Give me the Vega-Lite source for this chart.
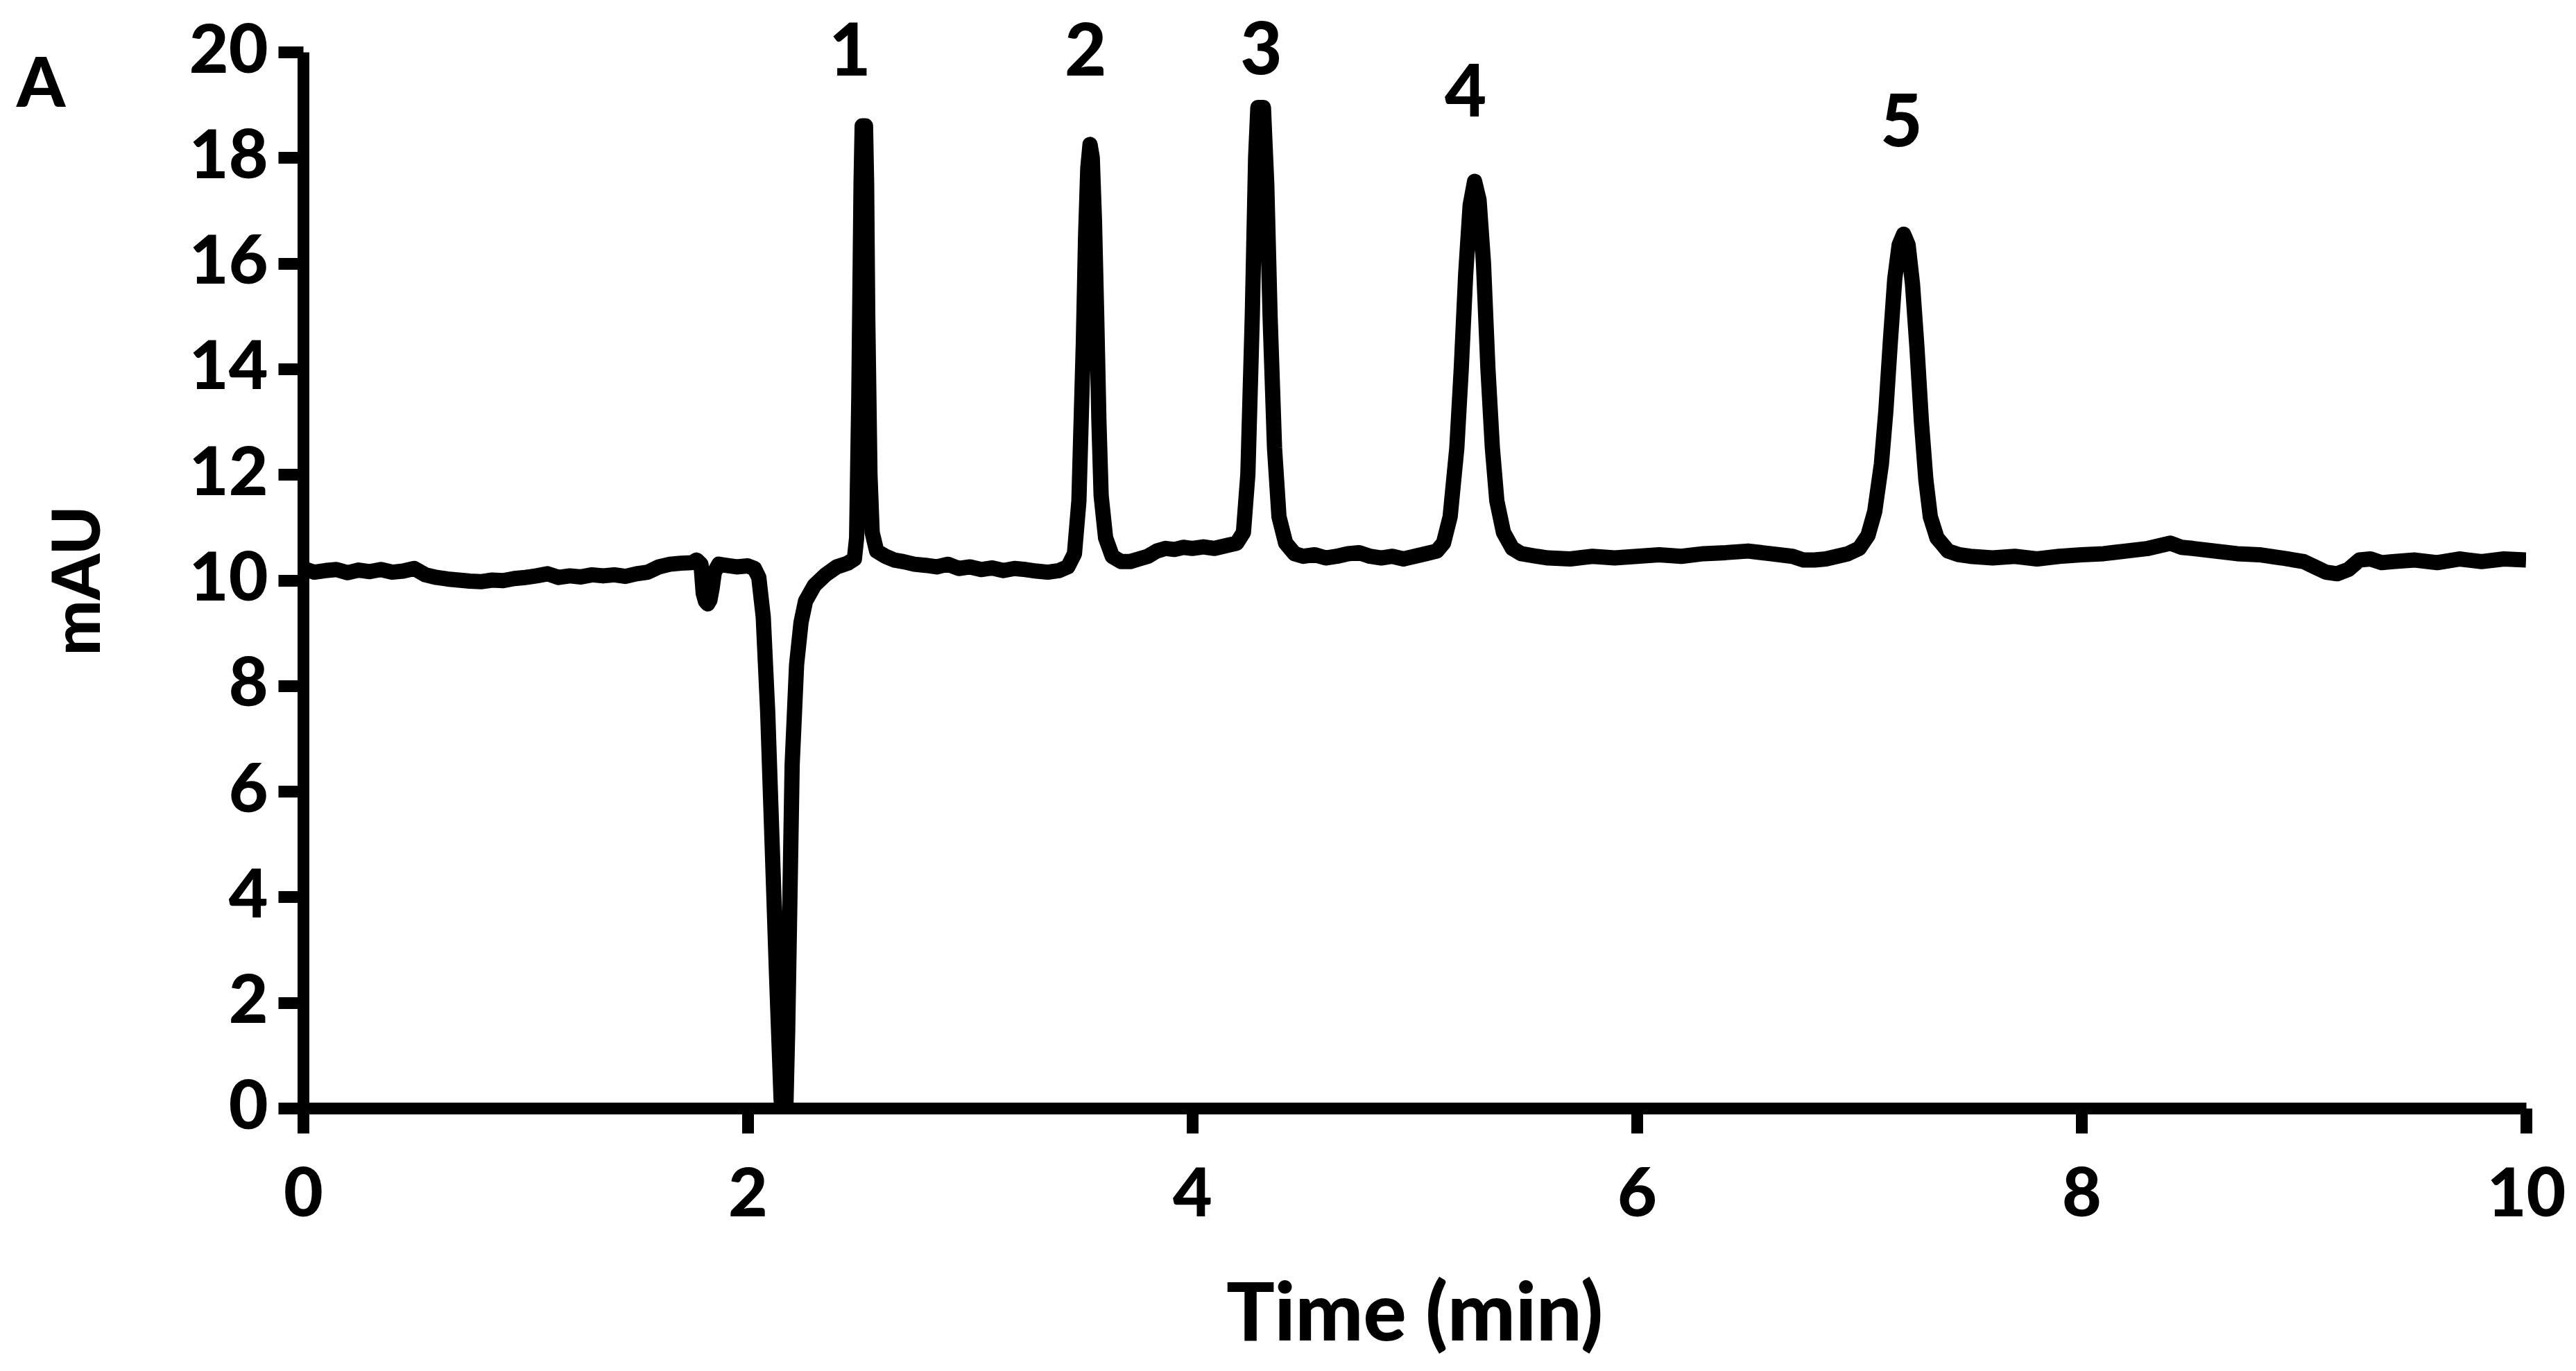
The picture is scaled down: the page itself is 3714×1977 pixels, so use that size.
{
  "$schema": "https://vega.github.io/schema/vega-lite/v6.json",
  "width": 3205,
  "height": 1523,
  "autosize": {"type": "none"},
  "padding": {"left": 437, "top": 75, "right": 72, "bottom": 379},
  "background": "white",
  "config": {"view": {"stroke": null}, "font": "Lato"},
  "layer": [
    {
      "data": {"values": [
        {"t":0.00,"v":10.22},{"t":0.05,"v":10.15},{"t":0.10,"v":10.18},{"t":0.15,"v":10.20},{"t":0.20,"v":10.14},{"t":0.25,"v":10.19},{"t":0.30,"v":10.16},{"t":0.35,"v":10.20},{"t":0.40,"v":10.15},{"t":0.45,"v":10.17},{"t":0.50,"v":10.22},{"t":0.55,"v":10.10},{"t":0.60,"v":10.05},{"t":0.65,"v":10.02},{"t":0.70,"v":10.00},{"t":0.75,"v":9.98},{"t":0.80,"v":9.97},{"t":0.85,"v":10.00},{"t":0.90,"v":9.99},{"t":0.95,"v":10.03},{"t":1.00,"v":10.05},{"t":1.05,"v":10.08},{"t":1.10,"v":10.12},{"t":1.15,"v":10.05},{"t":1.20,"v":10.08},{"t":1.25,"v":10.06},{"t":1.30,"v":10.10},{"t":1.35,"v":10.08},{"t":1.40,"v":10.10},{"t":1.45,"v":10.07},{"t":1.50,"v":10.12},{"t":1.55,"v":10.15},{"t":1.60,"v":10.25},{"t":1.65,"v":10.30},{"t":1.70,"v":10.32},{"t":1.75,"v":10.33},{"t":1.77,"v":10.38},{"t":1.79,"v":10.30},{"t":1.80,"v":9.75},{"t":1.81,"v":9.60},{"t":1.82,"v":9.55},{"t":1.83,"v":9.62},{"t":1.84,"v":9.85},{"t":1.85,"v":10.15},{"t":1.87,"v":10.30},{"t":1.90,"v":10.28},{"t":1.95,"v":10.25},{"t":2.00,"v":10.27},{"t":2.03,"v":10.22},{"t":2.05,"v":10.05},{"t":2.07,"v":9.3},{"t":2.09,"v":7.5},{"t":2.11,"v":5.0},{"t":2.13,"v":2.5},{"t":2.15,"v":0.2},{"t":2.16,"v":-0.5},{"t":2.17,"v":-0.3},{"t":2.18,"v":1.5},{"t":2.19,"v":4.0},{"t":2.20,"v":6.5},{"t":2.22,"v":8.4},{"t":2.24,"v":9.2},{"t":2.26,"v":9.6},{"t":2.30,"v":9.9},{"t":2.35,"v":10.1},{"t":2.40,"v":10.25},{"t":2.45,"v":10.32},{"t":2.48,"v":10.40},{"t":2.49,"v":10.8},{"t":2.50,"v":13.5},{"t":2.51,"v":17.5},{"t":2.515,"v":18.6},{"t":2.53,"v":18.6},{"t":2.535,"v":17.5},{"t":2.54,"v":15.0},{"t":2.55,"v":12.0},{"t":2.56,"v":10.9},{"t":2.58,"v":10.55},{"t":2.62,"v":10.45},{"t":2.66,"v":10.38},{"t":2.70,"v":10.35},{"t":2.75,"v":10.30},{"t":2.80,"v":10.28},{"t":2.85,"v":10.25},{"t":2.90,"v":10.30},{"t":2.95,"v":10.22},{"t":3.00,"v":10.25},{"t":3.05,"v":10.20},{"t":3.10,"v":10.23},{"t":3.15,"v":10.18},{"t":3.20,"v":10.22},{"t":3.25,"v":10.20},{"t":3.30,"v":10.17},{"t":3.35,"v":10.15},{"t":3.40,"v":10.18},{"t":3.44,"v":10.25},{"t":3.47,"v":10.5},{"t":3.49,"v":11.5},{"t":3.51,"v":14.5},{"t":3.52,"v":16.5},{"t":3.53,"v":17.8},{"t":3.54,"v":18.25},{"t":3.55,"v":18.0},{"t":3.56,"v":16.8},{"t":3.57,"v":15.0},{"t":3.58,"v":13.0},{"t":3.59,"v":11.6},{"t":3.61,"v":10.8},{"t":3.64,"v":10.45},{"t":3.68,"v":10.35},{"t":3.72,"v":10.35},{"t":3.76,"v":10.40},{"t":3.80,"v":10.45},{"t":3.84,"v":10.55},{"t":3.88,"v":10.60},{"t":3.92,"v":10.58},{"t":3.96,"v":10.62},{"t":4.00,"v":10.60},{"t":4.05,"v":10.63},{"t":4.10,"v":10.60},{"t":4.15,"v":10.65},{"t":4.20,"v":10.70},{"t":4.23,"v":10.9},{"t":4.25,"v":12.0},{"t":4.27,"v":15.0},{"t":4.285,"v":18.0},{"t":4.295,"v":18.95},{"t":4.32,"v":18.95},{"t":4.335,"v":17.5},{"t":4.35,"v":15.0},{"t":4.37,"v":12.5},{"t":4.39,"v":11.2},{"t":4.42,"v":10.7},{"t":4.46,"v":10.5},{"t":4.50,"v":10.45},{"t":4.55,"v":10.48},{"t":4.60,"v":10.42},{"t":4.65,"v":10.45},{"t":4.70,"v":10.50},{"t":4.75,"v":10.52},{"t":4.80,"v":10.45},{"t":4.85,"v":10.42},{"t":4.90,"v":10.45},{"t":4.95,"v":10.40},{"t":5.00,"v":10.45},{"t":5.05,"v":10.50},{"t":5.10,"v":10.55},{"t":5.13,"v":10.7},{"t":5.16,"v":11.2},{"t":5.19,"v":12.5},{"t":5.21,"v":14.0},{"t":5.23,"v":15.8},{"t":5.25,"v":17.1},{"t":5.27,"v":17.55},{"t":5.29,"v":17.2},{"t":5.31,"v":16.0},{"t":5.33,"v":14.0},{"t":5.35,"v":12.5},{"t":5.37,"v":11.5},{"t":5.40,"v":10.9},{"t":5.44,"v":10.6},{"t":5.48,"v":10.5},{"t":5.55,"v":10.45},{"t":5.60,"v":10.42},{"t":5.70,"v":10.40},{"t":5.80,"v":10.45},{"t":5.90,"v":10.42},{"t":6.00,"v":10.45},{"t":6.10,"v":10.48},{"t":6.20,"v":10.45},{"t":6.30,"v":10.50},{"t":6.40,"v":10.52},{"t":6.50,"v":10.55},{"t":6.60,"v":10.50},{"t":6.70,"v":10.45},{"t":6.75,"v":10.38},{"t":6.80,"v":10.38},{"t":6.85,"v":10.40},{"t":6.90,"v":10.45},{"t":6.95,"v":10.50},{"t":7.00,"v":10.60},{"t":7.04,"v":10.85},{"t":7.07,"v":11.3},{"t":7.10,"v":12.2},{"t":7.12,"v":13.2},{"t":7.14,"v":14.5},{"t":7.16,"v":15.7},{"t":7.18,"v":16.35},{"t":7.20,"v":16.55},{"t":7.22,"v":16.35},{"t":7.24,"v":15.6},{"t":7.26,"v":14.4},{"t":7.28,"v":13.0},{"t":7.30,"v":11.9},{"t":7.32,"v":11.2},{"t":7.35,"v":10.8},{"t":7.40,"v":10.55},{"t":7.45,"v":10.48},{"t":7.50,"v":10.45},{"t":7.60,"v":10.42},{"t":7.70,"v":10.45},{"t":7.80,"v":10.40},{"t":7.90,"v":10.45},{"t":8.00,"v":10.48},{"t":8.10,"v":10.50},{"t":8.20,"v":10.55},{"t":8.30,"v":10.60},{"t":8.35,"v":10.65},{"t":8.40,"v":10.70},{"t":8.45,"v":10.62},{"t":8.50,"v":10.60},{"t":8.60,"v":10.55},{"t":8.70,"v":10.50},{"t":8.80,"v":10.48},{"t":8.90,"v":10.42},{"t":9.00,"v":10.35},{"t":9.05,"v":10.25},{"t":9.10,"v":10.15},{"t":9.15,"v":10.12},{"t":9.20,"v":10.20},{"t":9.25,"v":10.38},{"t":9.30,"v":10.40},{"t":9.35,"v":10.33},{"t":9.40,"v":10.35},{"t":9.50,"v":10.38},{"t":9.60,"v":10.33},{"t":9.70,"v":10.40},{"t":9.80,"v":10.35},{"t":9.90,"v":10.40},{"t":10.00,"v":10.38}
      ]},
      "mark": {"type": "line", "color": "black", "strokeWidth": 22, "clip": true, "strokeJoin": "round"},
      "encoding": {
        "x": {"field": "t", "type": "quantitative", "scale": {"domain": [0, 10], "nice": false, "zero": false},
          "axis": {"values": [0, 2, 4, 6, 8, 10], "format": "d", "labelLimit": 0, "grid": false, "domainColor": "black", "domainWidth": 17, "tickColor": "black", "tickWidth": 17, "tickSize": 36,
            "labelFontSize": 98, "labelFontWeight": 900, "labelColor": "black", "labelPadding": 42, "labelFlush": false, "labelOverlap": false, "labelFont": "Lato",
            "title": "Time (min)", "titleFontSize": 116, "titleFontWeight": 900, "titleColor": "black", "titleFont": "Lato", "titleX": 1602, "titleY": 299, "titleBaseline": "middle", "titleAlign": "center"}},
        "y": {"field": "v", "type": "quantitative", "scale": {"domain": [0, 20], "nice": false, "zero": false},
          "axis": {"values": [0, 2, 4, 6, 8, 10, 12, 14, 16, 18, 20], "format": "d", "labelLimit": 0, "grid": false, "domainColor": "black", "domainWidth": 17, "tickColor": "black", "tickWidth": 17, "tickSize": 36,
            "labelFontSize": 98, "labelFontWeight": 900, "labelColor": "black", "labelPadding": 15, "labelFlush": false, "labelOverlap": false, "labelFont": "Lato",
            "title": "mAU", "titleFontSize": 95, "titleFontWeight": 900, "titleColor": "black", "titleFont": "Lato", "titleX": -323, "titleY": 762, "titleBaseline": "middle", "titleAlign": "center", "titleAngle": -90}}
      }
    },
    {
      "data": {"values": [
        {"t": 2.46, "v": 19.96, "label": "1"},
        {"t": 3.52, "v": 19.96, "label": "2"},
        {"t": 4.31, "v": 19.99, "label": "3"},
        {"t": 5.23, "v": 19.19, "label": "4"},
        {"t": 7.19, "v": 18.62, "label": "5"}
      ]},
      "mark": {"type": "text", "fontSize": 104, "fontWeight": 900, "color": "black", "font": "Lato", "align": "center", "baseline": "middle", "clip": false},
      "encoding": {
        "x": {"field": "t", "type": "quantitative"},
        "y": {"field": "v", "type": "quantitative"},
        "text": {"field": "label"}
      }
    },
    {
      "data": {"values": [
        {"t": -1.289, "v": 18.96, "label": "A"}
      ]},
      "mark": {"type": "text", "fontSize": 100, "fontWeight": 900, "color": "black", "font": "Lato", "align": "left", "baseline": "alphabetic", "clip": false},
      "encoding": {
        "x": {"field": "t", "type": "quantitative"},
        "y": {"field": "v", "type": "quantitative"},
        "text": {"field": "label"}
      }
    }
  ]
}
